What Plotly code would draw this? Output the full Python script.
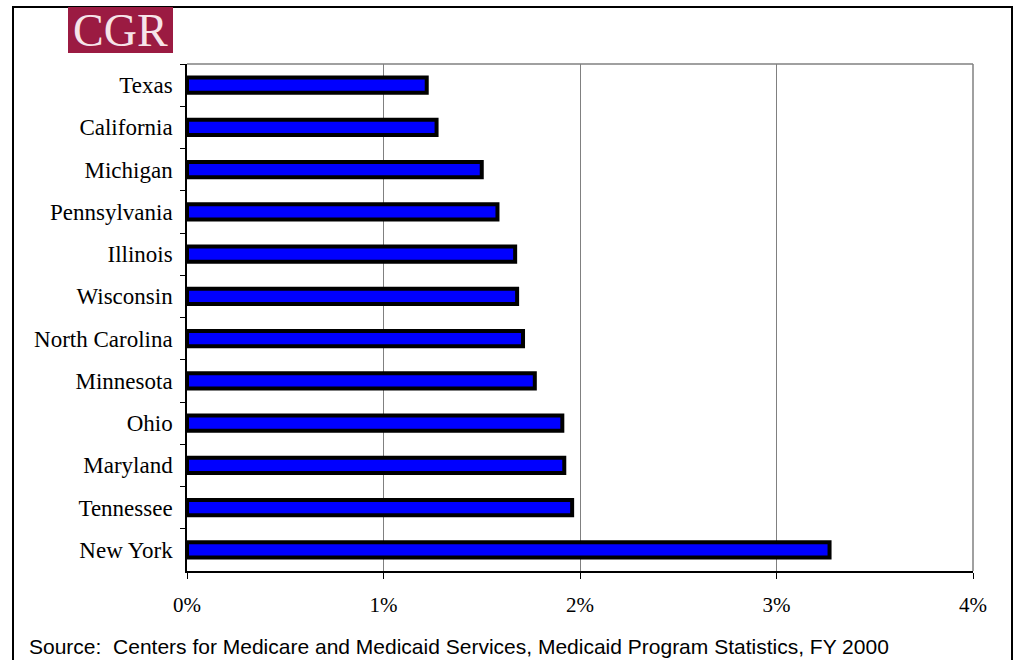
import plotly.graph_objects as go

# Share of population by state (percent), FY 2000
states = ["Texas", "California", "Michigan", "Pennsylvania", "Illinois", "Wisconsin",
          "North Carolina", "Minnesota", "Ohio", "Maryland", "Tennessee", "New York"]
values = [1.22, 1.27, 1.50, 1.58, 1.67, 1.68, 1.71, 1.77, 1.91, 1.92, 1.96, 3.27]
x_ticks = [0, 1, 2, 3, 4]
x_tick_labels = ["0%", "1%", "2%", "3%", "4%"]
source_note = "Source:  Centers for Medicare and Medicaid Services, Medicaid Program Statistics, FY 2000"

W, H = 1013, 660
L, R, T, B = 187, 973, 64, 571  # plot area in pixels


def px(x):
    return (x - L) / (R - L)


def py(y):
    return (B - y) / (B - T)


fig = go.Figure()
fig.add_trace(go.Bar(
    x=values, y=states, orientation="h",
    width=0.36,
    marker=dict(color="#0000FF", line=dict(color="black", width=4)),
    hoverinfo="x+y",
))

shapes = [
    # outer frame
    dict(type="rect", xref="paper", yref="paper",
         x0=px(13), x1=px(1012), y0=py(670), y1=py(7),
         line=dict(color="black", width=2), fillcolor="rgba(0,0,0,0)", layer="above"),
    # plot area frame (top and right)
    dict(type="line", xref="paper", yref="paper", x0=0, x1=1, y0=1, y1=1,
         line=dict(color="#808080", width=1.5), layer="below"),
    dict(type="line", xref="paper", yref="paper", x0=1, x1=1, y0=0, y1=1,
         line=dict(color="#808080", width=1.5), layer="below"),
    # logo block
    dict(type="rect", xref="paper", yref="paper",
         x0=px(68), x1=px(173), y0=py(53), y1=py(7),
         line=dict(width=0), fillcolor="#9B1B42", layer="above"),
]

annotations = [
    dict(text="CGR", xref="paper", yref="paper", x=px(120.5), y=py(31),
         xanchor="center", yanchor="middle", showarrow=False,
         font=dict(family="Liberation Serif", size=46, color="#F6E4E9")),
    dict(text=source_note, xref="paper", yref="paper", x=px(28), y=py(659),
         xanchor="left", yanchor="bottom", showarrow=False, borderpad=0,
         font=dict(family="Liberation Sans", size=21, color="black")),
]

fig.update_layout(
    width=W, height=H,
    margin=dict(l=L, r=W - R, t=T, b=H - B, pad=0),
    paper_bgcolor="white", plot_bgcolor="white",
    showlegend=False,
    shapes=shapes, annotations=annotations,
    xaxis=dict(
        range=[0, 4], tickvals=x_ticks, ticktext=x_tick_labels,
        showgrid=True, gridcolor="#808080", gridwidth=1,
        zeroline=False,
        showline=True, linecolor="black", linewidth=1.5,
        ticks="outside", ticklen=6, tickcolor="black", tickwidth=1,
        ticklabelstandoff=8,
        tickfont=dict(family="Liberation Serif", size=21, color="black"),
        fixedrange=True,
    ),
    yaxis=dict(
        type="category", autorange="reversed",
        showgrid=False, zeroline=False,
        showline=True, linecolor="black", linewidth=1.5,
        ticks="outside", ticklen=5, tickcolor="black", tickwidth=1,
        tickson="boundaries",
        ticklabelstandoff=8,
        tickfont=dict(family="Liberation Serif", size=23, color="black"),
        fixedrange=True,
    ),
)

fig.write_html("out.html")
